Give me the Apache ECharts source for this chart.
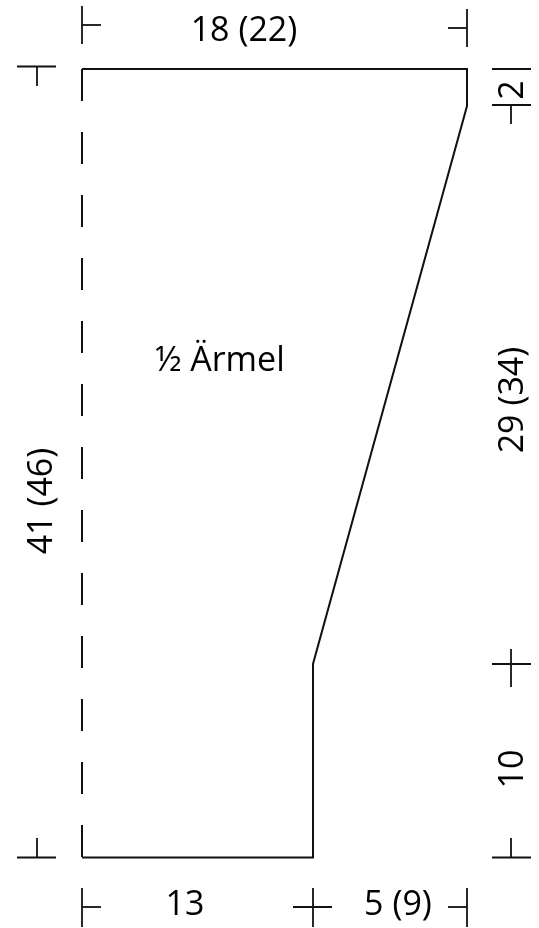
<!DOCTYPE html>
<html><head><meta charset="utf-8">
<style>html,body{margin:0;padding:0;background:#fff}#c{width:539px;height:928px}</style>
<script src="https://cdn.jsdelivr.net/npm/echarts@6/dist/echarts.min.js"></script>
</head><body><div id="c"></div>
<script>
const sleeveOutline = [[82,857.5],[313,857.5],[313,664],[467,106],[467,69],[82,69]];
const foldLine = [[82,69],[82,857.5]];
const dimensionMarks = [
  [[82,6],[82,44]], [[82,25],[101,25]],
  [[467,9],[467,47]], [[448,28],[467,28]],
  [[17,66.5],[56,66.5]], [[37,66.5],[37,86]],
  [[17,857.5],[56,857.5]], [[37,838],[37,857.5]],
  [[82,888],[82,927]], [[82,907],[101,907]],
  [[313,888],[313,927]], [[293,907],[332,907]],
  [[467,888],[467,927]], [[448,907],[467,907]],
  [[492,69],[531,69]],
  [[492,105],[531,105]], [[511,105],[511,124]],
  [[492,664],[531,664]], [[511,649],[511,687]],
  [[492,857.5],[531,857.5]], [[511,838],[511,857.5]]
];
const labels = [
  ['18 (22)',244,31,0],
  ['13',185,905,0],
  ['5 (9)',398,905,0],
  ['\u00BD \u00C4rmel',220,361,0],
  ['41 (46)',42.5,501,90],
  ['2',513,90,90],
  ['29 (34)',513,400,90],
  ['10',513,769,90]
];
const ink = '#111';
const lineSeries = (data, type, width) => ({
  type:'line', data, symbol:'none', silent:true, animation:false,
  lineStyle:{color:ink,width,type,cap:'butt',join:'miter'}
});
const option = {
  animation:false,
  backgroundColor:'#fff',
  grid:{left:0,right:0,top:0,bottom:0},
  xAxis:{type:'value',min:0,max:539,show:false},
  yAxis:{type:'value',min:0,max:928,inverse:true,show:false},
  series:[
    lineSeries(sleeveOutline,'solid',2),
    lineSeries(foldLine,[32,31],2),
    ...dimensionMarks.map(m=>lineSeries(m,'solid',1.8)),
    ...labels.map(l=>({
      type:'scatter',symbolSize:0,silent:true,animation:false,
      itemStyle:{opacity:1},
      data:[[l[1],l[2]]],
      label:{show:true,position:'inside',formatter:l[0],rotate:l[3],opacity:1,
        fontFamily:'Open Sans',fontSize:34,color:'#000',align:'center',verticalAlign:'middle'}
    }))
  ]
};
echarts.init(document.getElementById('c'),null,{renderer:'canvas'}).setOption(option);
</script></body></html>
